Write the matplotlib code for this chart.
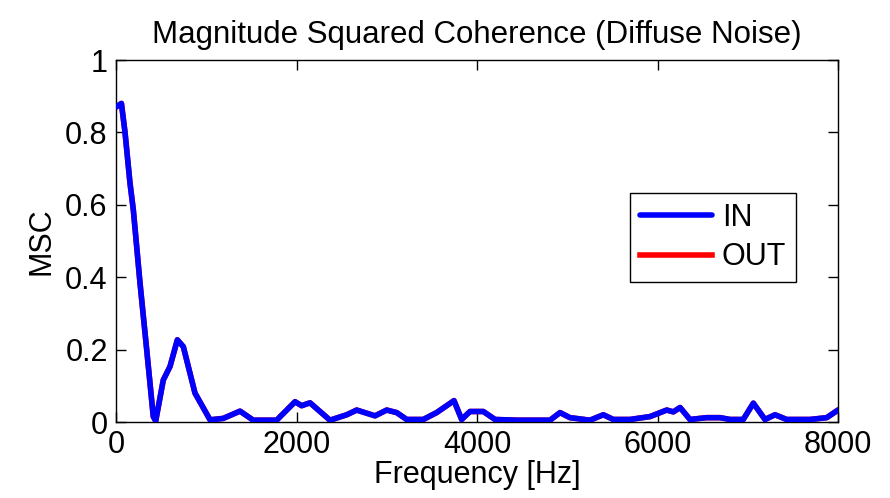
import matplotlib
matplotlib.use("Agg")
import matplotlib.pyplot as plt

# coherence estimates read per frequency bin
freq_hz = [0, 60, 100, 155, 192, 266, 340, 413, 440, 524, 598, 680, 746, 875,
           1042, 1189, 1374, 1521, 1780, 1984, 2057, 2150, 2371, 2557, 2667,
           2870, 2999, 3110, 3221, 3405, 3553, 3745, 3830, 3922, 4070, 4200,
           4440, 4809, 4920, 5030, 5252, 5400, 5510, 5695, 5917, 6102, 6176,
           6250, 6360, 6545, 6693, 6804, 6950, 7062, 7191, 7302, 7431, 7690,
           7875, 8000]
msc_in = [0.87, 0.88, 0.80, 0.66, 0.586, 0.384, 0.20, 0.015, 0.003, 0.116,
          0.153, 0.227, 0.208, 0.08, 0.006, 0.01, 0.03, 0.005, 0.005, 0.056,
          0.045, 0.053, 0.005, 0.02, 0.033, 0.017, 0.033, 0.026, 0.007, 0.007,
          0.026, 0.059, 0.007, 0.029, 0.029, 0.007, 0.005, 0.005, 0.026, 0.012,
          0.005, 0.02, 0.007, 0.007, 0.015, 0.033, 0.028, 0.04, 0.007, 0.012,
          0.012, 0.007, 0.007, 0.052, 0.007, 0.02, 0.007, 0.007, 0.012, 0.033]
msc_out = list(msc_in)

xticks = [0, 2000, 4000, 6000, 8000]
yticks = [0, 0.2, 0.4, 0.6, 0.8, 1]
ytick_labels = ["0", "0.2", "0.4", "0.6", "0.8", "1"]

plt.rcParams["font.family"] = ["Liberation Sans", "DejaVu Sans"]

fig = plt.figure(figsize=(8.9, 4.98), dpi=100)
ax = fig.add_axes([116 / 890, 1 - 422 / 498, 722 / 890, 362 / 498])

ax.plot(freq_hz, msc_out, color="#ff0000", lw=4, label="OUT", zorder=2)
ax.plot(freq_hz, msc_in, color="#0000ff", lw=4, label="IN", zorder=3,
        solid_joinstyle="round", solid_capstyle="round")

ax.set_xlim(0, 8000)
ax.set_ylim(0, 1)
ax.set_xticks(xticks)
ax.set_yticks(yticks)
ax.set_xticklabels([str(v) for v in xticks])
ax.set_yticklabels(ytick_labels)
ax.tick_params(direction="in", length=7, width=1, top=True, right=True,
               labelsize=22, pad=6)
for s in ax.spines.values():
    s.set_linewidth(1)

ax.set_title("Magnitude Squared Coherence (Diffuse Noise)", fontsize=22.5, pad=12)
ax.set_xlabel("Frequency [Hz]", fontsize=22, labelpad=0)
ax.set_ylabel("MSC", fontsize=22, labelpad=6)

h, l = ax.get_legend_handles_labels()
leg = ax.legend(h[::-1], l[::-1], loc="upper left",
                bbox_to_anchor=((630 - 116) / 722, 1 - (193 - 60) / 362),
                fontsize=22, frameon=True, fancybox=False, framealpha=1,
                edgecolor="black", handlelength=2.35, handletextpad=0.33,
                borderpad=0.33, labelspacing=0.3, borderaxespad=0)
leg.get_frame().set_linewidth(1)

fig.savefig("out.png", dpi=100)
